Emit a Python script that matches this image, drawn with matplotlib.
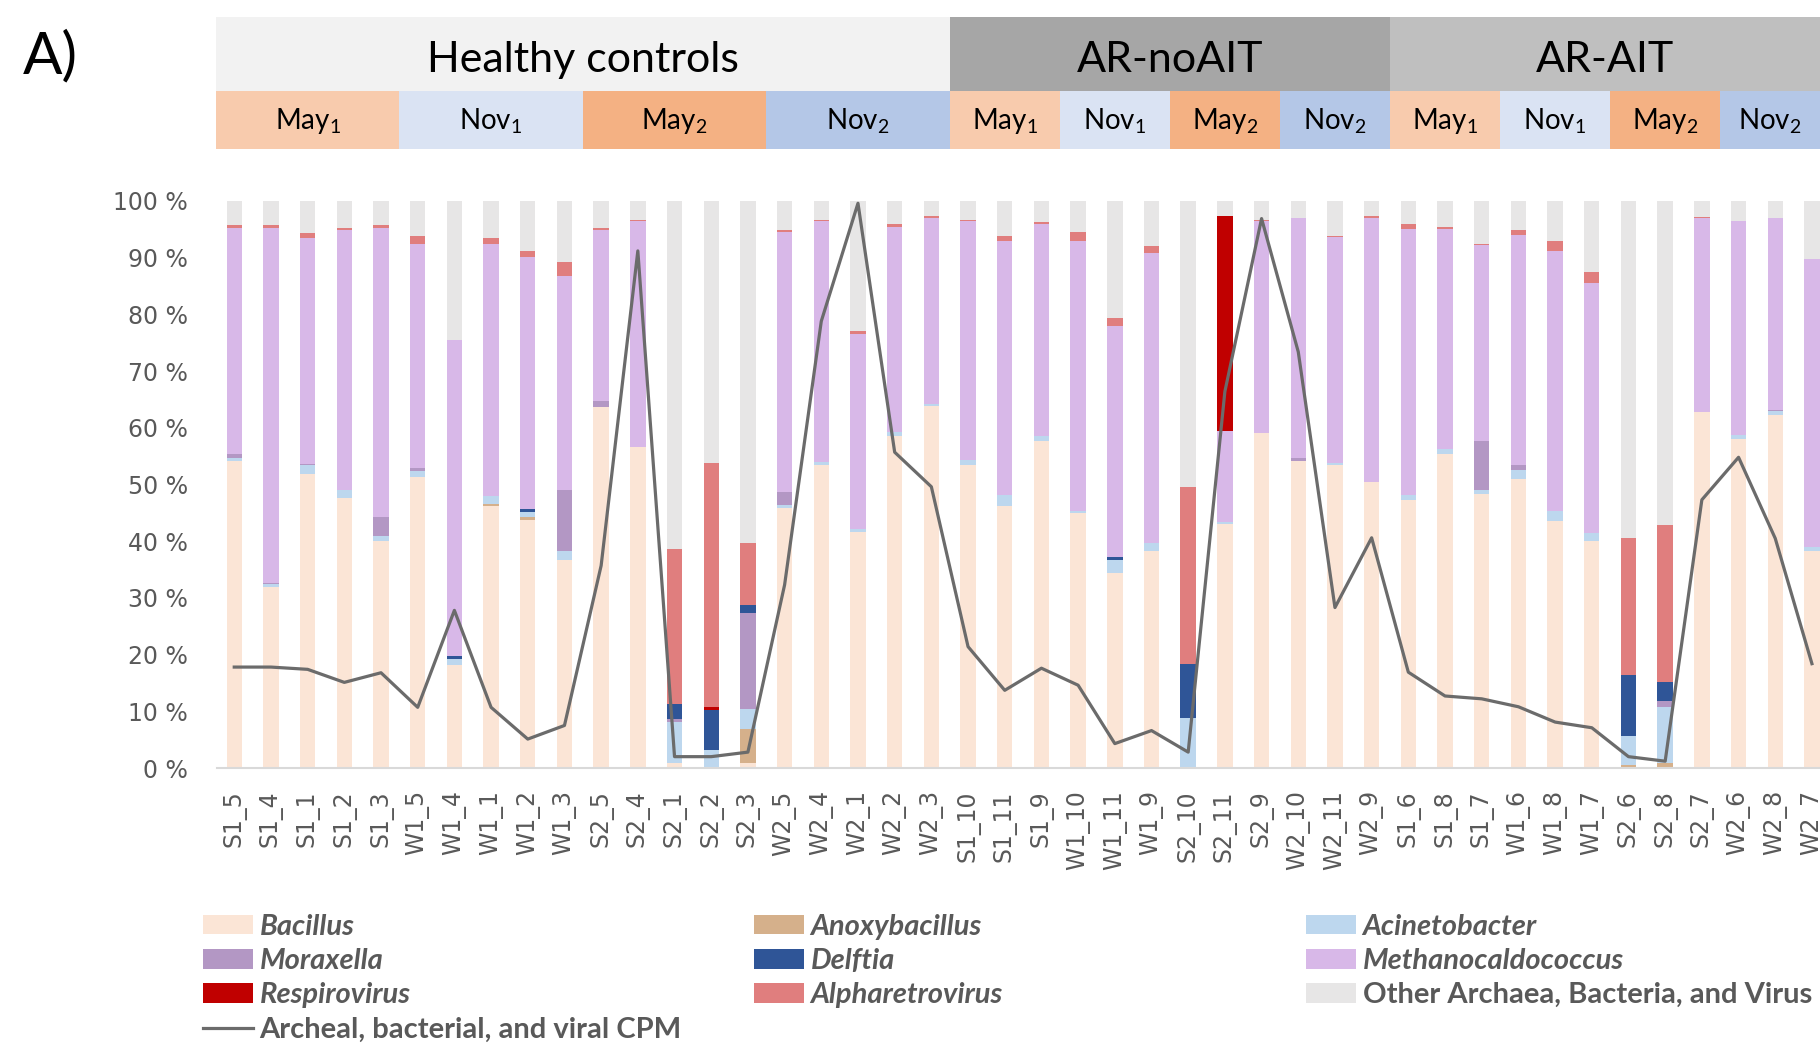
import matplotlib.pyplot as plt
from matplotlib.patches import Rectangle, Patch
from matplotlib.lines import Line2D
from matplotlib.transforms import blended_transform_factory
import numpy as np

plt.rcParams['mathtext.fontset'] = 'custom'
plt.rcParams['mathtext.rm'] = 'Lato'
plt.rcParams['mathtext.default'] = 'rm'

# samples in plotting order
samples = ['S1_5', 'S1_4', 'S1_1', 'S1_2', 'S1_3', 'W1_5', 'W1_4', 'W1_1', 'W1_2', 'W1_3',
           'S2_5', 'S2_4', 'S2_1', 'S2_2', 'S2_3', 'W2_5', 'W2_4', 'W2_1', 'W2_2', 'W2_3',
           'S1_10', 'S1_11', 'S1_9', 'W1_10', 'W1_11', 'W1_9',
           'S2_10', 'S2_11', 'S2_9', 'W2_10', 'W2_11', 'W2_9',
           'S1_6', 'S1_8', 'S1_7', 'W1_6', 'W1_8', 'W1_7',
           'S2_6', 'S2_8', 'S2_7', 'W2_6', 'W2_8', 'W2_7']
group_names = ['Healthy controls', 'AR-noAIT', 'AR-AIT']
group_sizes = [20, 12, 12]
period_names = {'S1': 'May$_1$', 'W1': 'Nov$_1$', 'S2': 'May$_2$', 'W2': 'Nov$_2$'}

# relative abundance (%)
bacillus = [54.1, 32.0, 51.9, 47.6, 40.0, 51.3, 18.2, 46.2, 43.8, 36.7,
            63.7, 56.7, 0.9, 0.0, 0.9, 45.9, 53.5, 41.6, 58.6, 63.9,
            53.4, 46.2, 57.6, 44.9, 34.4, 38.2,
            0.0, 43.0, 59.1, 54.2, 53.5, 50.5,
            47.3, 55.3, 48.3, 51.0, 43.5, 40.1,
            0.0, 0.0, 62.8, 58.1, 62.3, 38.2]
anoxybacillus = [0, 0, 0, 0, 0, 0, 0, 0.4, 0.4, 0,
                 0, 0, 0, 0, 6.0, 0, 0, 0, 0, 0,
                 0, 0, 0, 0, 0, 0,
                 0, 0, 0, 0, 0, 0,
                 0, 0, 0, 0, 0, 0,
                 0.5, 0.8, 0, 0, 0, 0]
acinetobacter = [0.6, 0.5, 1.5, 1.4, 1.0, 1.1, 1.0, 1.4, 1.0, 1.5,
                 0, 0, 7.2, 3.2, 3.5, 0.5, 0.4, 0.6, 0.7, 0.3,
                 0.9, 1.9, 1.0, 0.5, 2.3, 1.4,
                 8.9, 0.4, 0, 0, 0.3, 0,
                 0.8, 0.9, 0.8, 1.5, 1.9, 1.4,
                 5.1, 10.0, 0, 0.7, 0.7, 0.7]
moraxella = [0.6, 0.2, 0.2, 0, 3.3, 0.5, 0, 0, 0, 10.8,
             1.0, 0, 0.5, 0, 17.0, 2.3, 0, 0, 0, 0,
             0, 0, 0, 0, 0, 0,
             0, 0, 0, 0.5, 0, 0,
             0, 0, 8.5, 0.9, 0, 0,
             0, 1.0, 0, 0, 0.2, 0]
delftia = [0, 0, 0, 0, 0, 0, 0.5, 0, 0.5, 0,
           0, 0, 2.7, 7.1, 1.4, 0, 0, 0, 0, 0,
           0, 0, 0, 0, 0.5, 0,
           9.4, 0, 0, 0, 0, 0,
           0, 0, 0, 0, 0, 0,
           10.8, 3.3, 0, 0, 0, 0]
methanocaldococcus = [40.0, 62.6, 39.8, 45.8, 51.0, 39.6, 55.8, 44.5, 44.5, 37.8,
                      30.2, 39.8, 0, 0, 0, 45.8, 42.5, 34.4, 36.2, 32.8,
                      42.1, 44.9, 37.3, 47.6, 40.8, 51.2,
                      0, 16.1, 37.4, 42.3, 39.9, 46.5,
                      47.0, 38.9, 34.6, 40.6, 45.8, 44.1,
                      0, 0, 34.2, 37.6, 33.8, 50.9]
respirovirus = [0] * 13 + [0.5] + [0] * 13 + [37.9] + [0] * 16
alpharetrovirus = [0.4, 0.4, 1.0, 0.5, 0.4, 1.3, 0, 0.9, 0.9, 2.4,
                   0.4, 0.2, 27.3, 43.0, 10.8, 0.4, 0.3, 0.5, 0.4, 0.3,
                   0.3, 0.9, 0.4, 1.5, 1.3, 1.2,
                   31.2, 0, 0.2, 0, 0.2, 0.3,
                   0.8, 0.3, 0.3, 0.9, 1.8, 1.8,
                   24.2, 27.7, 0.1, 0.1, 0, 0]

# archaeal, bacterial and viral counts per million (scaled to the same axis)
cpm = [17.8, 17.8, 17.4, 15.1, 16.8, 10.7, 27.8, 10.7, 5.1, 7.5,
       35.7, 91.2, 2.0, 2.0, 2.8, 32.3, 78.8, 99.6, 55.7, 49.6,
       21.4, 13.7, 17.6, 14.6, 4.3, 6.6,
       2.8, 66.4, 96.9, 73.4, 28.3, 40.6,
       16.9, 12.7, 12.2, 10.8, 8.1, 7.1,
       2.0, 1.2, 47.3, 54.8, 40.5, 18.4]

taxa = [
    ('Bacillus', bacillus, '#FBE5D6'),
    ('Anoxybacillus', anoxybacillus, '#D5B08B'),
    ('Acinetobacter', acinetobacter, '#BDD7EE'),
    ('Moraxella', moraxella, '#B397C4'),
    ('Delftia', delftia, '#2F5597'),
    ('Methanocaldococcus', methanocaldococcus, '#D8B8E8'),
    ('Respirovirus', respirovirus, '#C00000'),
    ('Alpharetrovirus', alpharetrovirus, '#E07E7E'),
]
other = 100 - np.sum([np.array(t[1]) for t in taxa], axis=0)
taxa.append(('Other Archaea, Bacteria, and Virus', list(other), '#E7E6E6'))

W, H = 1820, 1044
fig = plt.figure(figsize=(W / 100, H / 100), dpi=100)
ax = fig.add_axes([217 / W, 276 / H, (W - 217) / W, 567 / H])

x = np.arange(len(samples))
bottom = np.zeros(len(samples))
for name, vals, col in taxa:
    vals = np.array(vals, dtype=float)
    ax.bar(x, vals, 0.42, bottom=bottom, color=col, linewidth=0, zorder=2)
    bottom += vals

line_col = '#6B6B6B'
ax.plot(x, cpm, color=line_col, lw=2.3, zorder=5, clip_on=False)

ax.set_xlim(-0.47, 43.22)
ax.set_ylim(0, 100)
ax.set_yticks(np.arange(0, 101, 10))
ax.set_yticklabels([f'{v} %' for v in range(0, 101, 10)])
ax.set_xticks(x)
ax.set_xticklabels(samples, rotation=90)
ax.tick_params(axis='y', length=0, pad=21, labelsize=17, labelcolor='#595959')
ax.tick_params(axis='x', length=0, pad=16, labelsize=17, labelcolor='#595959')
for s in ['top', 'right', 'left']:
    ax.spines[s].set_visible(False)
ax.spines['bottom'].set_color('#D9D9D9')
ax.spines['bottom'].set_linewidth(1.5)

# header boxes: groups on top, sampling periods below
tr = blended_transform_factory(ax.transData, fig.transFigure)
x_right = ax.get_xlim()[1]
g_y0, g_y1 = 1 - 91 / H, 1 - 17 / H
p_y0, p_y1 = 1 - 149 / H, 1 - 91 / H
group_cols = ['#F2F2F2', '#A6A6A6', '#BFBFBF']
period_cols = {'S1': '#F8CBAD', 'W1': '#DAE3F3', 'S2': '#F4B183', 'W2': '#B4C7E7'}

start = -0.5
for name, size, col in zip(group_names, group_sizes, group_cols):
    end = start + size
    fig.add_artist(Rectangle((start, g_y0), size, g_y1 - g_y0, transform=tr,
                             facecolor=col, edgecolor='none'))
    mid = (start + min(end, x_right)) / 2
    fig.text(mid, (g_y0 + g_y1) / 2 - 0.006, name, transform=tr, ha='center', va='center',
             fontsize=31, family='Lato', color='black')
    start = end

prefixes = [s.split('_')[0] for s in samples]
i = 0
while i < len(prefixes):
    j = i
    while j < len(prefixes) and prefixes[j] == prefixes[i]:
        j += 1
    a, b = i - 0.5, j - 0.5
    fig.add_artist(Rectangle((a, p_y0), b - a, p_y1 - p_y0, transform=tr,
                             facecolor=period_cols[prefixes[i]], edgecolor='none'))
    fig.text((a + min(b, x_right)) / 2, (p_y0 + p_y1) / 2 - 0.001, period_names[prefixes[i]],
             transform=tr, ha='center', va='center', fontsize=20, family='Lato', color='black')
    i = j

fig.text(23 / W, 1 - 73 / H, 'A)', fontsize=42, family='Lato', va='baseline', ha='left')

# legend, three columns
handles = {name: Patch(facecolor=col, edgecolor='none') for name, _, col in taxa}
handles['cpm'] = Line2D([0], [0], color=line_col, lw=2.3)
labels = {name: name for name, _, _ in taxa}
labels['cpm'] = 'Archeal, bacterial, and viral CPM'
columns = [
    (203, ['Bacillus', 'Moraxella', 'Respirovirus', 'cpm']),
    (754, ['Anoxybacillus', 'Delftia', 'Alpharetrovirus']),
    (1306, ['Acinetobacter', 'Methanocaldococcus', 'Other Archaea, Bacteria, and Virus']),
]
for xpos, keys in columns:
    leg = fig.legend([handles[k] for k in keys], [labels[k] for k in keys],
                     loc='upper left', bbox_to_anchor=(xpos / W, 1 - 914 / H),
                     frameon=False, borderpad=0, borderaxespad=0,
                     handlelength=1.72, handleheight=0.64, handletextpad=0.22,
                     labelspacing=0.28,
                     prop={'family': 'Lato', 'weight': 'bold', 'size': 21})
    for t, k in zip(leg.get_texts(), keys):
        t.set_color('#595959')
        if k not in ('cpm', 'Other Archaea, Bacteria, and Virus'):
            t.set_style('italic')

fig.savefig('out.png', dpi=100)
